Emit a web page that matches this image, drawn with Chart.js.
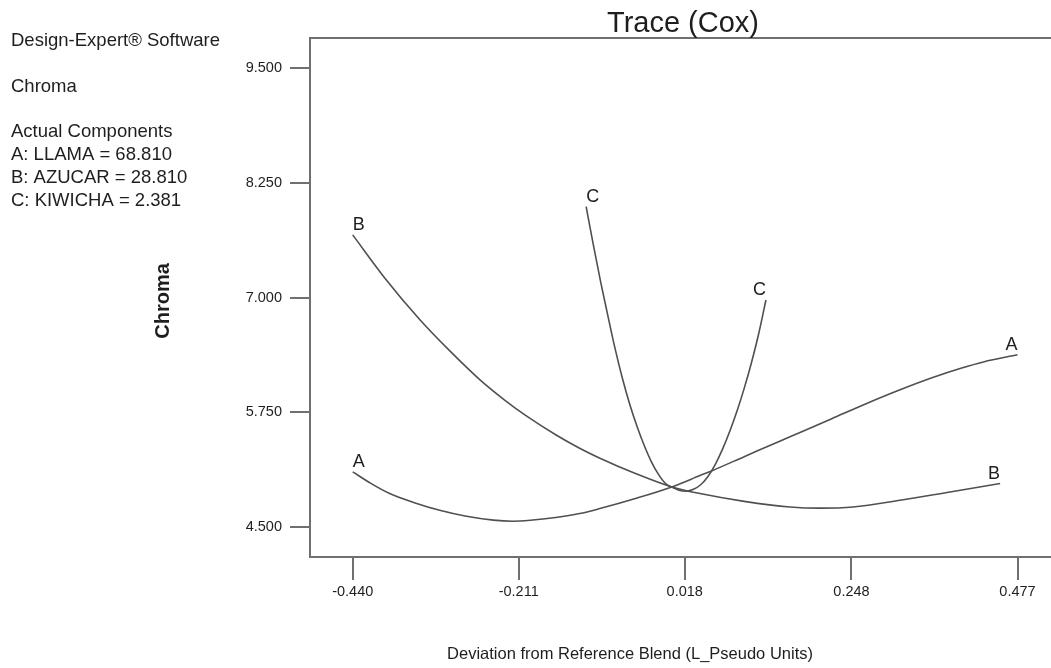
<!DOCTYPE html>
<html>
<head>
<meta charset="utf-8">
<script src="https://cdn.jsdelivr.net/npm/chart.js@4.4.1/dist/chart.umd.min.js"></script>
<style>
  html, body { margin: 0; padding: 0; background: #ffffff; overflow: hidden; }
  #wrap { width: 1051px; height: 668px; position: relative; }
</style>
</head>
<body>
<div id="wrap"><canvas id="c" width="1051" height="668"></canvas></div>
<script>
// ---- data ----
const xTicks = [-0.440, -0.211, 0.018, 0.248, 0.477];
const yTicks = [4.5, 5.75, 7.0, 8.25, 9.5];
const curveNames = ['A', 'B', 'C'];

const aX = [-0.440, -0.415, -0.389, -0.355, -0.320, -0.285, -0.246, -0.220, -0.195, -0.160, -0.127, -0.099, -0.050, 0.000, 0.039, 0.055, 0.100, 0.149, 0.177, 0.220, 0.269, 0.315, 0.361, 0.400, 0.430, 0.477];
const aY = [5.100, 4.975, 4.864, 4.765, 4.682, 4.620, 4.575, 4.563, 4.573, 4.603, 4.646, 4.701, 4.810, 4.936, 5.060, 5.111, 5.266, 5.435, 5.530, 5.677, 5.846, 5.995, 6.131, 6.232, 6.298, 6.376];

const bX = [-0.440, -0.395, -0.347, -0.305, -0.264, -0.230, -0.200, -0.160, -0.127, -0.099, -0.050, 0.000, 0.039, 0.100, 0.163, 0.205, 0.250, 0.315, 0.384, 0.453];
const bY = [7.682, 7.205, 6.755, 6.410, 6.100, 5.880, 5.707, 5.505, 5.358, 5.249, 5.082, 4.936, 4.864, 4.779, 4.718, 4.705, 4.718, 4.791, 4.882, 4.973];

const cX = [-0.118, -0.108, -0.098, -0.088, -0.078, -0.068, -0.058, -0.048, -0.038, -0.028, -0.018, -0.008, 0.000, 0.010, 0.020, 0.030, 0.040, 0.050, 0.060, 0.070, 0.080, 0.090, 0.100, 0.110, 0.120, 0.130];
const cY = [7.990, 7.570, 7.170, 6.800, 6.440, 6.120, 5.840, 5.600, 5.390, 5.210, 5.070, 4.970, 4.936, 4.900, 4.890, 4.910, 4.960, 5.050, 5.180, 5.345, 5.540, 5.760, 6.010, 6.290, 6.605, 6.973];

const infoLines = ['Design-Expert® Software', '', 'Chroma', '', 'Actual Components', 'A: LLAMA = 68.810', 'B: AZUCAR = 28.810', 'C: KIWICHA = 2.381'];
const chartTitle = 'Trace (Cox)';
const xTitle = 'Deviation from Reference Blend (L_Pseudo Units)';
const yTitle = 'Chroma';

const X_MIN = -0.4989, X_MAX = 0.5232;
const Y_MIN = 4.173, Y_MAX = 9.827;

// ---- build ----
const FONT = '"Liberation Sans", Arial, sans-serif';
const LINE_COLOR = '#505050';
const FRAME_COLOR = '#707070';
const TEXT_COLOR = '#1e1e1e';

function pts(xs, ys) { return xs.map((x, i) => ({ x: x, y: ys[i] })); }

const seriesX = [aX, bX, cX];
const seriesY = [aY, bY, cY];

const datasets = curveNames.map((name, i) => ({
  label: name,
  data: pts(seriesX[i], seriesY[i]),
  showLine: true,
  borderColor: LINE_COLOR,
  borderWidth: 1.6,
  pointRadius: 0,
  pointHoverRadius: 0,
  cubicInterpolationMode: 'monotone',
  fill: false
}));

const overlay = {
  id: 'overlay',
  beforeDatasetsDraw(chart) {
    const { ctx, chartArea: a } = chart;
    ctx.save();
    ctx.strokeStyle = FRAME_COLOR;
    ctx.lineWidth = 2;
    ctx.beginPath();
    ctx.moveTo(a.right + 2, a.top);
    ctx.lineTo(a.left, a.top);
    ctx.lineTo(a.left, a.bottom);
    ctx.lineTo(a.right + 2, a.bottom);
    ctx.stroke();
    ctx.restore();
  },
  afterDatasetsDraw(chart) {
    const { ctx } = chart;
    const xs = chart.scales.x, ys = chart.scales.y;
    ctx.save();
    ctx.fillStyle = TEXT_COLOR;
    ctx.font = '18px ' + FONT;
    ctx.textBaseline = 'alphabetic';
    curveNames.forEach((name, i) => {
      const X = seriesX[i], Y = seriesY[i];
      const x0 = xs.getPixelForValue(X[0]), y0 = ys.getPixelForValue(Y[0]);
      const x1 = xs.getPixelForValue(X[X.length - 1]), y1 = ys.getPixelForValue(Y[Y.length - 1]);
      ctx.textAlign = 'left';
      ctx.fillText(name, x0, y0 - 5);
      ctx.textAlign = 'right';
      ctx.fillText(name, x1, y1 - 5);
    });
    ctx.restore();
  },
  afterDraw(chart) {
    const { ctx } = chart;
    ctx.save();
    ctx.fillStyle = TEXT_COLOR;
    ctx.font = '18.5px ' + FONT;
    ctx.textAlign = 'left';
    ctx.textBaseline = 'alphabetic';
    infoLines.forEach((t, i) => { if (t) ctx.fillText(t, 11, 46 + i * 22.8); });
    ctx.font = '29px ' + FONT;
    ctx.textAlign = 'center';
    ctx.fillText(chartTitle, 683, 32);
    ctx.font = '16.5px ' + FONT;
    ctx.fillText(xTitle, 630, 659);
    ctx.save();
    ctx.translate(163, 301);
    ctx.rotate(-Math.PI / 2);
    ctx.font = 'bold 20px ' + FONT;
    ctx.textBaseline = 'middle';
    ctx.fillText(yTitle, 0, 0);
    ctx.restore();
    ctx.restore();
  }
};

new Chart(document.getElementById('c'), {
  type: 'scatter',
  data: { datasets },
  options: {
    responsive: false,
    devicePixelRatio: 1,
    animation: false,
    events: [],
    layout: { padding: { left: 0, top: 38, right: 0, bottom: 0 } },
    plugins: { legend: { display: false }, title: { display: false }, tooltip: { enabled: false } },
    scales: {
      x: {
        type: 'linear',
        min: X_MIN, max: X_MAX,
        afterBuildTicks: s => { s.ticks = xTicks.map(v => ({ value: v })); },
        afterFit: s => { s.height = 111; },
        ticks: {
          callback: v => v.toFixed(3),
          font: { family: FONT, size: 14.5 },
          color: TEXT_COLOR,
          padding: 3,
          maxRotation: 0,
          autoSkip: false
        },
        grid: { drawOnChartArea: false, drawTicks: true, tickLength: 23, color: FRAME_COLOR, lineWidth: 2 },
        border: { display: false }
      },
      y: {
        type: 'linear',
        min: Y_MIN, max: Y_MAX,
        afterBuildTicks: s => { s.ticks = yTicks.map(v => ({ value: v })); },
        afterFit: s => { s.width = 310; },
        ticks: {
          callback: v => v.toFixed(3),
          font: { family: FONT, size: 14.5 },
          color: TEXT_COLOR,
          padding: 8,
          autoSkip: false
        },
        grid: { drawOnChartArea: false, drawTicks: true, tickLength: 20, color: FRAME_COLOR, lineWidth: 2 },
        border: { display: false }
      }
    }
  },
  plugins: [overlay]
});
</script>
</body>
</html>
